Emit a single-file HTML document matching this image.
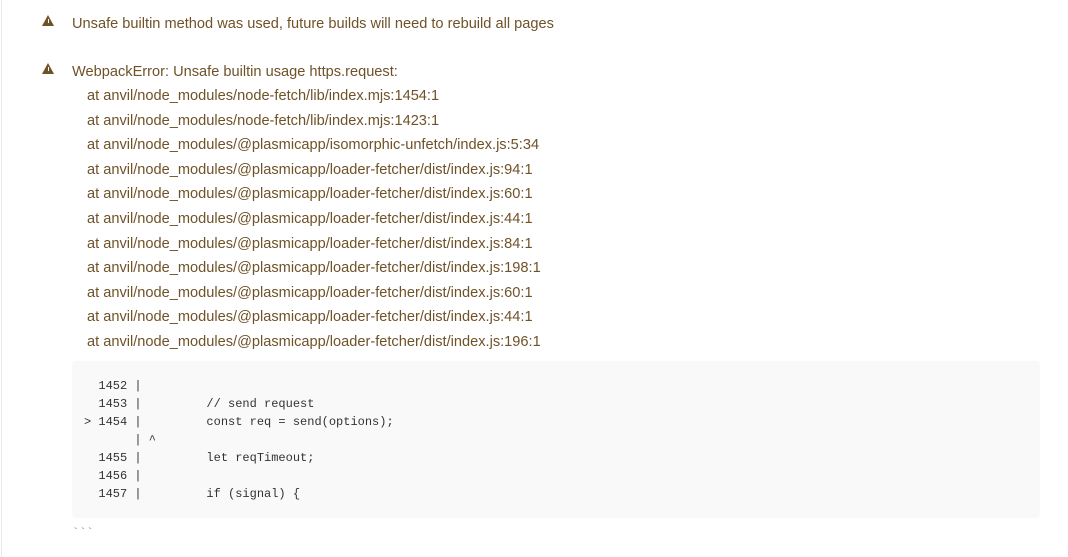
<!DOCTYPE html>
<html><head><meta charset="utf-8"><style>
body{margin:0;width:1068px;height:557px;background:#fff;position:relative;overflow:hidden;font-family:"Liberation Sans",sans-serif;}
.bl{position:absolute;left:1px;top:0;width:1px;height:557px;background:#e8e8e8}
.t{position:absolute;color:#6f5228;font-size:14.6px;white-space:pre;line-height:18px}
.w{position:absolute;width:0;height:0;border-left:6px solid transparent;border-right:6px solid transparent;border-bottom:11px solid #6f5228}
.w:after{content:"";position:absolute;left:-0.5px;top:4px;width:1px;height:4px;background:#fff}
.code{position:absolute;left:72px;top:361px;width:968px;height:157px;background:#f9f9f9;border-radius:4px}
pre{position:absolute;left:84px;top:377px;margin:0;font-family:"Liberation Mono",monospace;font-size:12px;line-height:18px;color:#333}
.bt{position:absolute;left:72px;top:527px;font-size:12px;line-height:12px;color:#888;font-family:"Liberation Mono",monospace}
</style></head><body>
<div class="bl"></div>
<div class="w" style="left:42px;top:15px"></div>
<div class="t" style="left:72px;top:15px">Unsafe builtin method was used, future builds will need to rebuild all pages</div>
<div class="w" style="left:42px;top:63px"></div>
<div class="t" style="left:72px;top:63px">WebpackError: Unsafe builtin usage https.request:</div>
<div class="t" style="left:87px;top:87px">at anvil/node_modules/node-fetch/lib/index.mjs:1454:1</div>
<div class="t" style="left:87px;top:111.6px">at anvil/node_modules/node-fetch/lib/index.mjs:1423:1</div>
<div class="t" style="left:87px;top:136.2px">at anvil/node_modules/@plasmicapp/isomorphic-unfetch/index.js:5:34</div>
<div class="t" style="left:87px;top:160.8px">at anvil/node_modules/@plasmicapp/loader-fetcher/dist/index.js:94:1</div>
<div class="t" style="left:87px;top:185.4px">at anvil/node_modules/@plasmicapp/loader-fetcher/dist/index.js:60:1</div>
<div class="t" style="left:87px;top:210px">at anvil/node_modules/@plasmicapp/loader-fetcher/dist/index.js:44:1</div>
<div class="t" style="left:87px;top:234.6px">at anvil/node_modules/@plasmicapp/loader-fetcher/dist/index.js:84:1</div>
<div class="t" style="left:87px;top:259.2px">at anvil/node_modules/@plasmicapp/loader-fetcher/dist/index.js:198:1</div>
<div class="t" style="left:87px;top:283.8px">at anvil/node_modules/@plasmicapp/loader-fetcher/dist/index.js:60:1</div>
<div class="t" style="left:87px;top:308.4px">at anvil/node_modules/@plasmicapp/loader-fetcher/dist/index.js:44:1</div>
<div class="t" style="left:87px;top:333px">at anvil/node_modules/@plasmicapp/loader-fetcher/dist/index.js:196:1</div>
<div class="code"></div>
<pre>  1452 |
  1453 |         // send request
&gt; 1454 |         const req = send(options);
       | ^
  1455 |         let reqTimeout;
  1456 |
  1457 |         if (signal) {</pre>
<div class="bt">&#96;&#96;&#96;</div>
</body></html>
